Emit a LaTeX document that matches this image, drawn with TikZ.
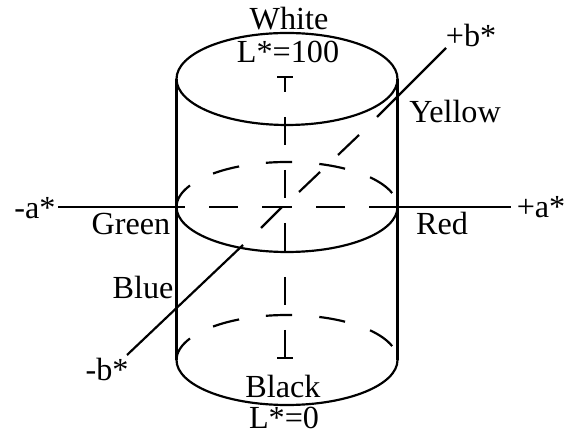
\documentclass[tikz,border=0pt]{standalone}
\usepackage{fontspec}
\setmainfont{Liberation Serif}
\tikzset{
  outline/.style={line width=0.62pt},
  axisline/.style={line width=0.62pt},
  colorlabel/.style={anchor=base, inner sep=0pt, font=\fontsize{9.15}{10}\selectfont}
}
\begin{document}
\begin{tikzpicture}[x=0.01cm, y=0.01cm]
    \useasboundingbox (0,0) rectangle (571,431);

    % Labels
    \node[colorlabel] (white) at (289,401) {White};
    \node[colorlabel] (lmax) at (288,368) {L*=100};
    \node[colorlabel] (yellow) at (455,308) {Yellow};
    \node[colorlabel] (green) at (131,196) {Green};
    \node[colorlabel] (red) at (442,196) {Red};
    \node[colorlabel] (blue) at (143,132) {Blue};
    \node[colorlabel] (black) at (283,34) {Black};
    \node[colorlabel] (lmin) at (284,3) {L*=0};
    \node[colorlabel] (aminus) at (35,212) {-a*};
    \node[colorlabel] (aplus) at (541,213) {+a*};
    \node[colorlabel] (bplus) at (471,384) {+b*};
    \node[colorlabel] (bminus) at (107,51) {-b*};

    % Cylinder
    \draw[outline] (287,352) ellipse [x radius=110.5, y radius=46];
    \draw[outline] (176.5,224) arc [start angle=180, end angle=360, x radius=110.5, y radius=45];
    \draw[outline] (176.5,71) arc [start angle=180, end angle=360, x radius=110.5, y radius=45];
    \draw[outline] (176.5,352) -- (176.5,71);
    \draw[outline] (397.5,352) -- (397.5,71);

    % Hidden back edge, middle
    \draw[outline] (176.5,224) arc [start angle=180, end angle=151.4, x radius=110.5, y radius=45];
    \draw[outline] (287,224) ++(132:110.5 and 45) arc [start angle=132, end angle=115.7, x radius=110.5, y radius=45];
    \draw[outline] (287,224) ++(101:110.5 and 45) arc [start angle=101, end angle=87.4, x radius=110.5, y radius=45];
    \draw[outline] (287,224) ++(73:110.5 and 45) arc [start angle=73, end angle=58.3, x radius=110.5, y radius=45];
    \draw[outline] (287,224) ++(41.3:110.5 and 45) arc [start angle=41.3, end angle=18, x radius=110.5, y radius=45];

    % Hidden back edge, bottom
    \draw[outline] (176.5,71) arc [start angle=180, end angle=151.4, x radius=110.5, y radius=45];
    \draw[outline] (287,71) ++(132:110.5 and 45) arc [start angle=132, end angle=115.7, x radius=110.5, y radius=45];
    \draw[outline] (287,71) ++(101:110.5 and 45) arc [start angle=101, end angle=87.4, x radius=110.5, y radius=45];
    \draw[outline] (287,71) ++(73:110.5 and 45) arc [start angle=73, end angle=58.3, x radius=110.5, y radius=45];
    \draw[outline] (287,71) ++(41.3:110.5 and 45) arc [start angle=41.3, end angle=18, x radius=110.5, y radius=45];

    % a* axis
    \coordinate (astart) at (58,224);
    \coordinate (aleft) at (185,224);
    \coordinate (aright) at (369,224);
    \coordinate (aend) at (511,224);
    \draw[axisline] (astart) -- (aleft);
    \draw[axisline] (209,224) -- (238,224);
    \draw[axisline] (262,224) -- (292,224);
    \draw[axisline] (316,224) -- (345,224);
    \draw[axisline] (aright) -- (aend);

    % L* axis
    \draw[axisline] (277,354) -- (293,354);
    \draw[axisline] (285,354) -- (285,339);
    \draw[axisline] (285,314) -- (285,286);
    \draw[axisline] (285,261) -- (285,233);
    \draw[axisline] (285,208) -- (285,179);
    \draw[axisline] (285,154) -- (285,126);
    \draw[axisline] (285,101) -- (285,73);
    \draw[axisline] (277,73) -- (293,73);

    % b* axis
    \draw[axisline] (127,76) -- (243,186);
    \draw[axisline] (261,203) -- (282,224);
    \draw[axisline] (299,239) -- (320,259);
    \draw[axisline] (338,276) -- (359,296);
    \draw[axisline] (377,314) -- (446,383);
\end{tikzpicture}
\end{document}
